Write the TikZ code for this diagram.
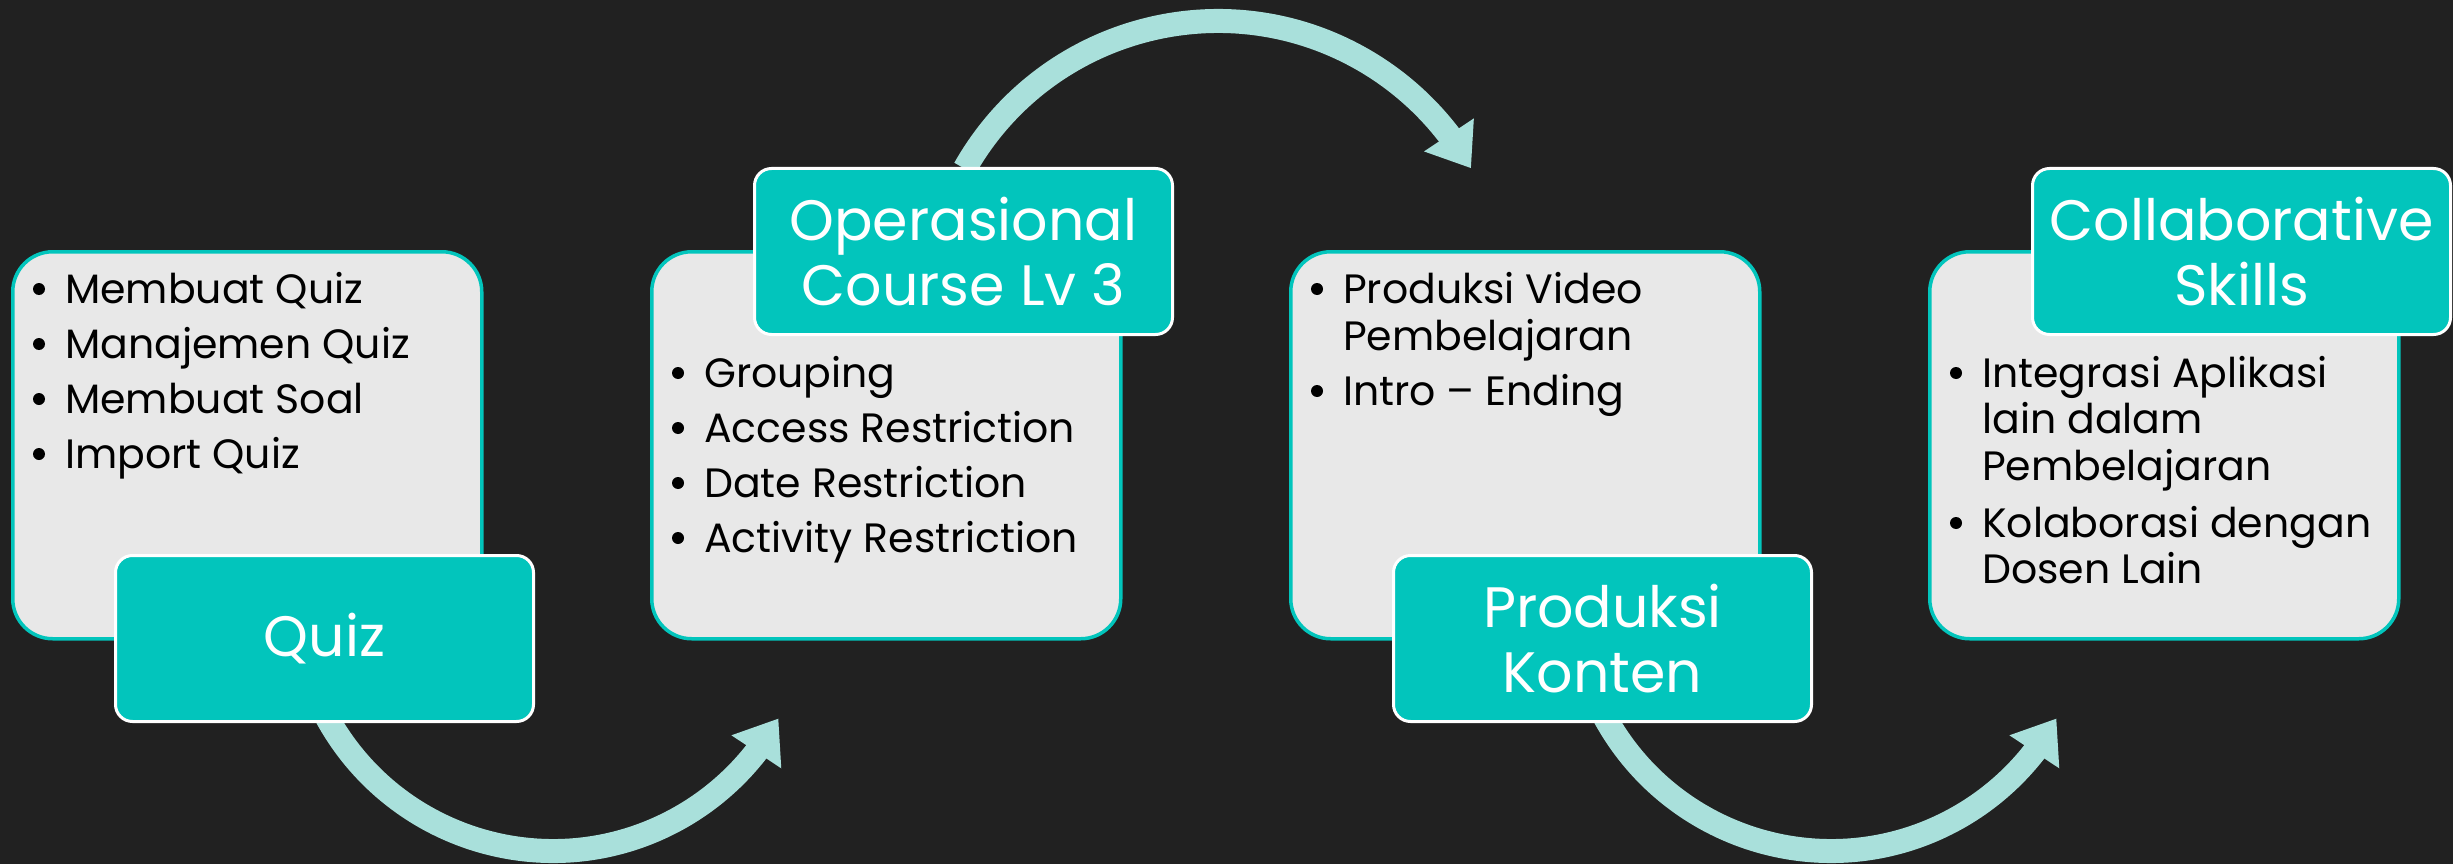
\documentclass[tikz,border=0pt]{standalone}
\usepackage{fontspec}
\setmainfont{Poppins}
\usetikzlibrary{arrows.meta,bending,calc}
\definecolor{bgc}{HTML}{212121}
\definecolor{greyc}{HTML}{E8E8E8}
\definecolor{tealc}{HTML}{02C5BC}
\definecolor{arrowc}{HTML}{A9E0DB}
\begin{document}
\begin{tikzpicture}[x=1pt,y=-1pt,
  greybox/.style={draw=tealc, line width=3.5pt, fill=greyc, rounded corners=40pt,
    minimum width=469pt, minimum height=387pt, anchor=north west, inner sep=0pt},
  tealbox/.style={draw=white, line width=3pt, fill=tealc, rounded corners=17pt,
    minimum width=418pt, minimum height=166pt, anchor=north west, inner sep=0pt,
    text=white, align=center, font=\fontsize{57}{65}\selectfont},
  btxt/.style={anchor=base west, inner sep=0pt, text=black, font=\fontsize{41}{47}\selectfont},
  bul/.style={circle, fill=black, minimum size=12pt, inner sep=0pt},
  flow/.style={draw=arrowc, line width=24pt, -{Triangle[length=40pt,width=57pt]}}]
\fill[bgc] (0,0) rectangle (2453,864);
\useasboundingbox (0,0) rectangle (2453,864);

% arrows (drawn first, boxes cover their starts)
\coordinate (c1) at (553,593);
\coordinate (c2) at (1218,312);
\coordinate (c3) at (1831,593);
\draw[flow] ($(c1)+(151.2:258)$) arc[start angle=151.2, end angle=29.1, radius=258];
\draw[flow] ($(c2)+(209.5:291)$) arc[start angle=209.5, end angle=330.4, radius=291];
\draw[flow] ($(c3)+(151.2:258)$) arc[start angle=151.2, end angle=29.1, radius=258];

% grey boxes
\node[greybox] (g1) at (11,250) {};
\node[greybox] (g2) at (650,250) {};
\node[greybox] (g3) at (1289,250) {};
\node[greybox] (g4) at (1928,250) {};

% teal labels
\node[tealbox] (t1) at (114,554) {Quiz};
\node[tealbox] (t2) at (753,167) {Operasional\\Course Lv 3};
\node[tealbox] (t3) at (1392,554) {Produksi\\Konten};
\node[tealbox] (t4) at (2031,167) {Collaborative\\Skills};

% box 1
\node[bul] (d11) at (39,289) {};
\node[btxt] (l11) at (65,303) {Membuat Quiz};
\node[bul] (d12) at (39,344) {};
\node[btxt] (l12) at (65,358) {Manajemen Quiz};
\node[bul] (d13) at (39,399) {};
\node[btxt] (l13) at (65,413) {Membuat Soal};
\node[bul] (d14) at (39,454) {};
\node[btxt] (l14) at (65,468) {Import Quiz};

% box 2
\node[bul] (d21) at (678,373) {};
\node[btxt] (l21) at (704,387) {Grouping};
\node[bul] (d22) at (678,428) {};
\node[btxt] (l22) at (704,442) {Access Restriction};
\node[bul] (d23) at (678,483) {};
\node[btxt] (l23) at (704,497) {Date Restriction};
\node[bul] (d24) at (678,538) {};
\node[btxt] (l24) at (704,552) {Activity Restriction};

% box 3
\node[bul] (d31) at (1317,289) {};
\node[btxt] (l31) at (1343,303) {Produksi Video};
\node[btxt] (l32) at (1343,350) {Pembelajaran};
\node[bul] (d33) at (1317,391) {};
\node[btxt] (l33) at (1343,405) {Intro – Ending};

% box 4
\node[bul] (d41) at (1956,373) {};
\node[btxt] (l41) at (1982,387) {Integrasi Aplikasi};
\node[btxt] (l42) at (1982,433) {lain dalam};
\node[btxt] (l43) at (1982,480) {Pembelajaran};
\node[bul] (d44) at (1956,523) {};
\node[btxt] (l44) at (1982,537) {Kolaborasi dengan};
\node[btxt] (l45) at (1982,583) {Dosen Lain};
\end{tikzpicture}
\end{document}
